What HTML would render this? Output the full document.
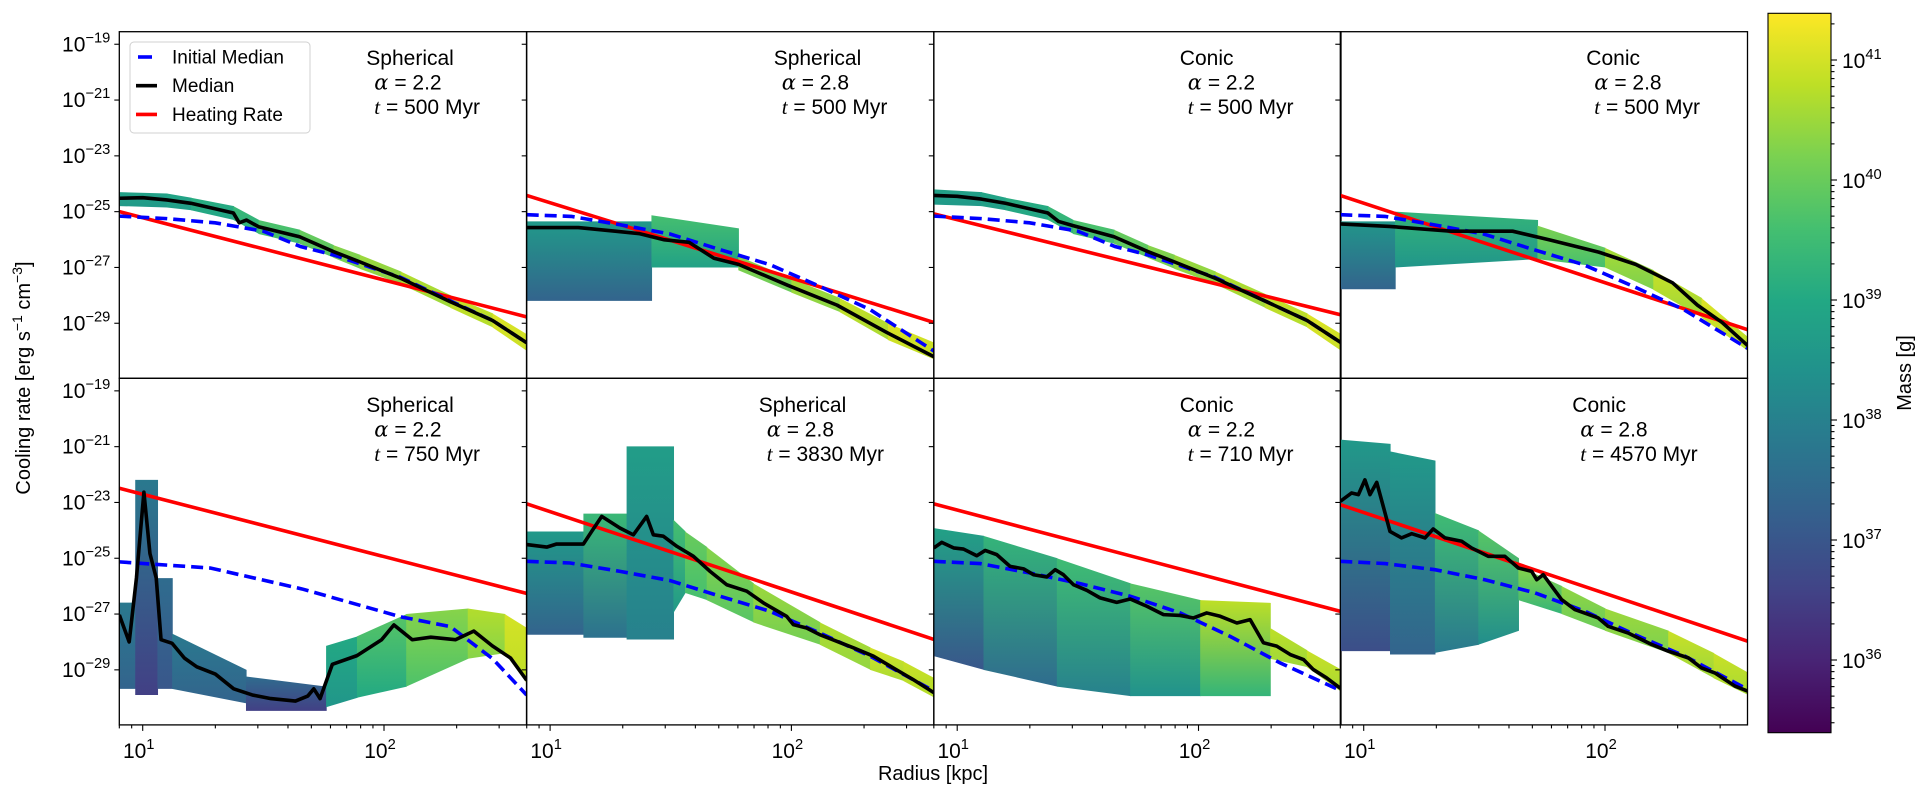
<!DOCTYPE html>
<html><head><meta charset="utf-8"><style>
html,body{margin:0;padding:0;background:#fff}
svg{display:block}
text{font-family:"Liberation Sans","DejaVu Sans",sans-serif;fill:#000}
</style></head><body>
<svg id="fig" width="1925" height="789" viewBox="0 0 1925 789" xmlns="http://www.w3.org/2000/svg">
<defs id="defs"></defs>
<g id="plots"></g>
</svg>
<script>
// ---------- data (log10 values) ----------
// panel 1: Spherical a=2.2 t=500
const p1HeatV = [-25.0, -28.77];
const p1InitR = [0.903,1.1,1.3,1.5,1.654,1.79,2.067,2.275,2.45,2.591];
const p1InitV = [-25.16,-25.25,-25.4,-25.7,-26.25,-26.55,-27.35,-28.2,-28.9,-29.7];
const p1MedR = [0.903,1.0,1.1,1.2,1.376,1.40,1.43,1.48,1.65,1.79,1.9,2.07,2.275,2.45,2.591];
const p1MedV = [-24.52,-24.5,-24.58,-24.7,-25.05,-25.4,-25.3,-25.54,-25.9,-26.43,-26.8,-27.39,-28.23,-28.9,-29.7];
const p1ColR = [0.903,1.1,1.2,1.376,1.48,1.65,1.79,1.9,2.07,2.275,2.45,2.591];
const p1ColHi = [-24.3,-24.35,-24.5,-24.8,-25.3,-25.65,-26.2,-26.55,-27.15,-28.0,-28.65,-29.4];
const p1ColLo = [-24.8,-24.85,-24.95,-25.3,-25.8,-26.15,-26.65,-27.05,-27.6,-28.45,-29.15,-30.0];
const p1ColMlo = [38.6,38.7,38.9,39.2,39.5,39.8,40.1,40.3,40.5,40.7,40.9,41.0];
const p1ColMhi = [38.8,38.9,39.1,39.4,39.7,40.0,40.3,40.5,40.7,40.9,41.1,41.2];
// panel 2: Spherical a=2.8 t=500
const p2HeatV = [-24.42, -28.97];
const p2InitR = [0.903,1.088,1.29,1.497,1.704,1.911,2.118,2.326,2.591];
const p2InitV = [-25.11,-25.17,-25.47,-25.8,-26.36,-26.9,-27.68,-28.51,-30.0];
const p2MedR = [0.903,1.117,1.27,1.372,1.474,1.576,1.679,1.781,1.985,2.189,2.393,2.591];
const p2MedV = [-25.57,-25.57,-25.7,-25.79,-26.01,-26.1,-26.67,-26.89,-27.64,-28.35,-29.32,-30.2];
const p2ColR = [0.903,1.42,1.42,1.78,1.78,2.0,2.2,2.4,2.591];
const p2ColHi = [-25.35,-25.35,-25.13,-25.6,-26.6,-27.4,-28.1,-29.0,-29.7];
const p2ColLo = [-28.2,-28.2,-27.0,-27.0,-27.1,-27.9,-28.6,-29.6,-30.3];
const p2ColMlo = [37.3,37.3,38.8,38.8,40.0,40.3,40.6,40.8,40.8];
const p2ColMhi = [38.6,38.6,39.6,39.6,40.3,40.6,40.9,41.1,41.1];
// panel 3: Conic a=2.2 t=500
const p3HeatV = [-25.08, -28.7];
const p3InitR = [0.903,1.1,1.3,1.5,1.654,1.79,2.067,2.275,2.45,2.591];
const p3InitV = [-25.16,-25.25,-25.4,-25.7,-26.25,-26.55,-27.35,-28.2,-28.9,-29.7];
const p3MedR = [0.903,1.0,1.1,1.2,1.376,1.42,1.48,1.65,1.79,1.9,2.07,2.275,2.45,2.591];
const p3MedV = [-24.42,-24.45,-24.55,-24.7,-25.05,-25.35,-25.5,-25.9,-26.43,-26.8,-27.39,-28.2,-28.9,-29.7];
const p3ColR = [0.903,1.1,1.2,1.376,1.48,1.65,1.79,1.9,2.07,2.275,2.45,2.591];
const p3ColHi = [-24.2,-24.3,-24.5,-24.8,-25.3,-25.65,-26.2,-26.55,-27.15,-27.95,-28.65,-29.4];
const p3ColLo = [-24.75,-24.8,-24.95,-25.3,-25.8,-26.15,-26.65,-27.05,-27.6,-28.45,-29.15,-30.0];
const p3ColMlo = [38.6,38.7,38.9,39.2,39.5,39.8,40.1,40.3,40.5,40.7,40.9,41.0];
const p3ColMhi = [38.8,38.9,39.1,39.4,39.7,40.0,40.3,40.5,40.7,40.9,41.1,41.2];
// panel 4: Conic a=2.8 t=500
const p4HeatV = [-24.42, -29.23];
const p4InitR = [0.903,1.088,1.29,1.497,1.704,1.911,2.118,2.326,2.591];
const p4InitV = [-25.11,-25.17,-25.47,-25.8,-26.36,-26.9,-27.68,-28.51,-29.9];
const p4MedR = [0.903,1.107,1.362,1.617,1.77,1.974,2.127,2.28,2.383,2.485,2.591];
const p4MedV = [-25.44,-25.53,-25.7,-25.7,-26.01,-26.45,-26.89,-27.55,-28.35,-28.97,-29.8];
const p4ColR = [0.903,1.13,1.13,1.72,1.72,2.0,2.2,2.4,2.591];
const p4ColHi = [-25.35,-25.35,-25.0,-25.3,-25.5,-26.3,-27.1,-28.1,-29.5];
const p4ColLo = [-27.78,-27.78,-27.0,-26.7,-26.7,-27.0,-27.8,-28.8,-30.0];
const p4ColMlo = [37.3,37.3,38.5,38.5,39.6,40.2,40.5,40.7,40.7];
const p4ColMhi = [38.5,38.5,39.3,39.3,40.2,40.6,40.9,41.1,41.1];
// panel 5: Spherical a=2.2 t=750
const p5HeatV = [-22.49, -26.26];
const p5InitR = [0.903,1.28,1.66,2.07,2.275,2.45,2.591];
const p5InitV = [-25.13,-25.35,-26.1,-27.1,-27.45,-28.6,-29.9];
const p5MedR = [0.903,0.944,0.974,1.005,1.03,1.056,1.076,1.122,1.173,1.224,1.301,1.377,1.454,1.531,1.633,1.684,1.709,1.735,1.786,1.888,1.99,2.041,2.117,2.194,2.296,2.372,2.449,2.525,2.591];
const p5MedV = [-27.03,-28.0,-25.71,-22.63,-24.83,-25.71,-27.92,-28.05,-28.58,-28.89,-29.15,-29.68,-29.9,-30.03,-30.12,-29.94,-29.68,-30.03,-28.8,-28.49,-27.92,-27.39,-27.92,-27.83,-27.92,-27.61,-28.14,-28.58,-29.37];
const p5ColR = [0.903,0.969,0.969,1.061,1.061,1.122,1.122,1.428,1.428,1.76,1.76,1.888,2.092,2.347,2.5,2.591];
const p5ColHi = [-26.59,-26.59,-22.19,-22.19,-25.71,-25.71,-27.7,-29.0,-29.24,-29.6,-28.14,-27.8,-27.0,-26.8,-27.0,-27.5];
const p5ColLo = [-29.68,-29.68,-29.9,-29.9,-29.68,-29.68,-29.68,-30.2,-30.47,-30.47,-30.34,-30.0,-29.6,-28.6,-28.4,-29.5];
const p5ColMlo = [37.3,37.3,36.5,36.5,37.0,37.0,37.3,37.0,36.5,36.5,38.5,39.0,39.7,40.3,40.8,40.8];
const p5ColMhi = [37.8,37.8,37.8,37.8,37.5,37.5,37.8,37.6,37.5,37.5,39.0,39.8,40.3,40.7,41.0,41.0];
// panel 6: Spherical a=2.8 t=3830
const p6HeatV = [-23.05, -27.91];
const p6InitR = [0.903,1.083,1.29,1.497,1.704,1.911,2.118,2.326,2.591];
const p6InitV = [-25.11,-25.17,-25.47,-25.8,-26.36,-26.9,-27.68,-28.51,-29.76];
const p6MedR = [0.903,0.986,1.027,1.138,1.172,1.214,1.29,1.345,1.4,1.428,1.469,1.525,1.594,1.663,1.732,1.815,1.884,1.98,2.008,2.063,2.118,2.257,2.34,2.422,2.505,2.591];
const p6MedV = [-24.51,-24.6,-24.49,-24.49,-24.04,-23.5,-23.92,-24.16,-23.5,-24.16,-24.21,-24.57,-24.93,-25.47,-25.95,-26.18,-26.6,-27.08,-27.38,-27.5,-27.74,-28.21,-28.51,-28.93,-29.35,-29.82];
const p6ColR = [0.903,1.138,1.138,1.317,1.317,1.511,1.511,1.559,1.649,1.842,2.118,2.326,2.464,2.591];
const p6ColHi = [-24.04,-24.04,-23.4,-23.4,-20.99,-20.99,-23.62,-24.04,-24.6,-25.9,-27.3,-28.2,-28.7,-29.3];
const p6ColLo = [-27.74,-27.74,-27.85,-27.85,-27.91,-27.91,-26.96,-26.24,-26.5,-27.3,-28.1,-29.0,-29.4,-30.0];
const p6ColMlo = [37.3,37.3,37.6,37.6,38.0,38.0,38.6,39.6,39.8,40.1,40.4,40.6,40.7,40.7];
const p6ColMhi = [38.6,38.6,39.4,39.4,38.7,38.7,39.6,40.0,40.3,40.5,40.7,41.0,40.9,40.9];
// panel 7: Conic a=2.2 t=710
const p7HeatV = [-23.05, -26.91];
const p7InitR = [0.903,1.095,1.302,1.509,1.717,1.924,2.131,2.338,2.591];
const p7InitV = [-25.11,-25.19,-25.53,-25.91,-26.36,-26.96,-27.8,-28.75,-29.75];
const p7MedR = [0.903,0.936,0.985,1.026,1.081,1.116,1.164,1.219,1.275,1.316,1.371,1.406,1.44,1.482,1.537,1.592,1.661,1.717,1.786,1.855,1.924,1.979,2.034,2.09,2.159,2.214,2.269,2.324,2.38,2.435,2.476,2.531,2.591];
const p7MedV = [-24.63,-24.43,-24.63,-24.67,-24.91,-24.72,-24.87,-25.29,-25.38,-25.59,-25.67,-25.41,-25.59,-25.95,-26.15,-26.42,-26.58,-26.46,-26.72,-27.02,-27.05,-27.14,-26.96,-27.08,-27.32,-27.2,-28.03,-28.15,-28.45,-28.63,-28.99,-29.29,-29.68];
const p7ColR = [0.903,1.109,1.413,1.717,2.007,2.297,2.297,2.449,2.591];
const p7ColHi = [-23.92,-24.2,-25.0,-25.9,-26.5,-26.6,-27.5,-28.3,-29.0];
const p7ColLo = [-28.51,-29.0,-29.6,-29.94,-29.94,-29.94,-28.6,-28.9,-29.8];
const p7ColMlo = [37.0,37.5,38.0,38.4,39.3,40.5,40.5,40.6,40.6];
const p7ColMhi = [38.8,39.3,39.5,39.8,40.8,40.8,40.8,40.9,40.9];
// panel 8: Conic a=2.8 t=4570
const p8HeatV = [-23.08, -27.97];
const p8InitR = [0.903,1.088,1.295,1.502,1.71,1.917,2.124,2.331,2.591];
const p8InitV = [-25.11,-25.19,-25.41,-25.77,-26.24,-26.9,-27.74,-28.51,-29.7];
const p8MedR = [0.903,0.95,0.978,1.005,1.026,1.054,1.081,1.109,1.157,1.199,1.254,1.288,1.337,1.406,1.447,1.516,1.585,1.641,1.696,1.717,1.744,1.779,1.82,1.875,1.972,2.013,2.096,2.193,2.262,2.345,2.4,2.455,2.538,2.591];
const p8MedV = [-22.96,-22.66,-22.72,-22.19,-22.72,-22.28,-23.14,-24.04,-24.27,-24.12,-24.27,-23.95,-24.27,-24.39,-24.63,-24.93,-24.93,-25.35,-25.47,-25.77,-25.59,-26.0,-26.48,-26.84,-27.14,-27.44,-27.68,-28.09,-28.33,-28.57,-28.93,-29.11,-29.58,-29.76];
const p8ColR = [0.903,1.109,1.109,1.295,1.295,1.475,1.641,1.641,1.82,2.0,2.262,2.45,2.591];
const p8ColHi = [-20.75,-20.9,-21.17,-21.5,-23.38,-24.0,-25.0,-25.29,-26.0,-26.8,-27.6,-28.4,-29.1];
const p8ColLo = [-28.33,-28.33,-28.45,-28.45,-28.39,-28.1,-27.6,-26.5,-27.0,-27.6,-28.4,-29.3,-29.9];
const p8ColMlo = [36.8,36.8,37.3,37.3,37.8,38.3,38.3,39.3,40.0,40.2,40.5,40.6,40.6];
const p8ColMhi = [38.6,38.6,38.6,38.6,39.5,39.8,39.8,40.3,40.4,40.5,40.9,40.9,40.9];

const panelTitles = ["Spherical","Spherical","Conic","Conic","Spherical","Spherical","Conic","Conic"];
const panelAlpha = ["2.2","2.8","2.2","2.8","2.2","2.8","2.2","2.8"];
const panelTime = ["500","500","500","500","750","3830","710","4570"];
const yTickExp = [-19,-21,-23,-25,-27,-29];
const xTickExp = [1,2];
const cbTickExp = [36,37,38,39,40,41];

// ---------- layout ----------
const NS = "http://www.w3.org/2000/svg";
const PX = [119.3, 526.7, 933.8, 1340.3];
const PY = [31.7, 378.3];
const PW = 407.2, PH = 346.6;
const XMIN = 0.903, XPD = 241.3, YMAX = -18.55, YPD = 27.9;
const textX = [247,247,246,246,247,232,246,232];
const data = [
 [p1HeatV,p1InitR,p1InitV,p1MedR,p1MedV,p1ColR,p1ColHi,p1ColLo,p1ColMlo,p1ColMhi],
 [p2HeatV,p2InitR,p2InitV,p2MedR,p2MedV,p2ColR,p2ColHi,p2ColLo,p2ColMlo,p2ColMhi],
 [p3HeatV,p3InitR,p3InitV,p3MedR,p3MedV,p3ColR,p3ColHi,p3ColLo,p3ColMlo,p3ColMhi],
 [p4HeatV,p4InitR,p4InitV,p4MedR,p4MedV,p4ColR,p4ColHi,p4ColLo,p4ColMlo,p4ColMhi],
 [p5HeatV,p5InitR,p5InitV,p5MedR,p5MedV,p5ColR,p5ColHi,p5ColLo,p5ColMlo,p5ColMhi],
 [p6HeatV,p6InitR,p6InitV,p6MedR,p6MedV,p6ColR,p6ColHi,p6ColLo,p6ColMlo,p6ColMhi],
 [p7HeatV,p7InitR,p7InitV,p7MedR,p7MedV,p7ColR,p7ColHi,p7ColLo,p7ColMlo,p7ColMhi],
 [p8HeatV,p8InitR,p8InitV,p8MedR,p8MedV,p8ColR,p8ColHi,p8ColLo,p8ColMlo,p8ColMhi]
];
const VIR = ["#440154","#482475","#414487","#355f8d","#2a788e","#21918c","#22a884","#44bf70","#7ad151","#bddf26","#fde725"];
const MMIN = 35.37, MMAX = 41.39;
function hex(c){return [parseInt(c.substr(1,2),16),parseInt(c.substr(3,2),16),parseInt(c.substr(5,2),16)];}
function viridis(m){
  let t = Math.max(0, Math.min(1, (m-MMIN)/(MMAX-MMIN)));
  let f = t*10, i = Math.min(9, Math.floor(f)), u = f-i;
  const a = hex(VIR[i]), b = hex(VIR[i+1]);
  return "rgb(" + a.map((v,k)=>Math.round(v+(b[k]-v)*u)).join(",") + ")";
}
function el(tag, attrs, parent){
  const e = document.createElementNS(NS, tag);
  for (const k in attrs) e.setAttribute(k, attrs[k]);
  if (parent) parent.appendChild(e);
  return e;
}
const svg = document.getElementById("fig");
const defs = document.getElementById("defs");
const plots = document.getElementById("plots");
let gid = 0;

function supLabel(parent, x, y, base, exp, anchor, size){
  const t = el("text", {x:x, y:y, "text-anchor":anchor, "font-size":size}, parent);
  const s1 = el("tspan", {}, t); s1.textContent = base;
  const s2 = el("tspan", {dy:-size*0.42, "font-size":size*0.7}, t); s2.textContent = exp;
  return t;
}

for (let p = 0; p < 8; p++){
  const col = p % 4, row = Math.floor(p/4);
  const x0 = PX[col], y0 = PY[row];
  const xS = lr => x0 + (lr - XMIN) * XPD;
  const yS = lv => y0 + (YMAX - lv) * YPD;
  const [heatV, initR, initV, medR, medV, colR, colHi, colLo, colMlo, colMhi] = data[p];

  const g = el("g", {}, plots);
  
  
  const cp = el("clipPath", {id:"clip"+p}, defs);
  el("rect", {x:x0, y:y0, width:PW, height:PH}, cp);
  const inner = el("g", {"clip-path":"url(#clip"+p+")"}, g);

  // heatmap segments (trapezoids between consecutive radius points)
  const hm = el("g", {}, inner);
  
  
  for (let i = 0; i < colR.length - 1; i++){
    const xa = xS(colR[i]), xb = xS(colR[i+1]);
    if (xb - xa < 0.01) continue;
    const id = "gr" + (gid++);
    const lg = el("linearGradient", {id:id, x1:0, y1:1, x2:0, y2:0}, defs);
    el("stop", {offset:0, "stop-color":viridis(colMlo[i])}, lg);
    el("stop", {offset:1, "stop-color":viridis(colMhi[i])}, lg);
    const pts = [xa+","+yS(colHi[i]), (xb+0.6)+","+yS(colHi[i+1]), (xb+0.6)+","+yS(colLo[i+1]), xa+","+yS(colLo[i])].join(" ");
    const poly = el("polygon", {points:pts, fill:"url(#"+id+")"}, hm);
    
    
  }
  // heating line
  const hl = el("line", {x1:xS(XMIN), y1:yS(heatV[0]), x2:xS(XMIN+PW/XPD), y2:yS(heatV[1]), stroke:"#ff0000", "stroke-width":3.6}, inner);
  
  
  // initial median
  const ip = el("polyline", {points: initR.map((r,i)=>xS(r)+","+yS(initV[i])).join(" "), fill:"none", stroke:"#0000ff", "stroke-width":3.6, "stroke-dasharray":"12,6"}, inner);
  
  
  // median
  const mp = el("polyline", {points: medR.map((r,i)=>xS(r)+","+yS(medV[i])).join(" "), fill:"none", stroke:"#000", "stroke-width":3.6, "stroke-linejoin":"round"}, inner);
  
  

  // frame
  const fr = el("rect", {x:x0, y:y0, width:PW, height:PH, fill:"none", stroke:"#000", "stroke-width":1.3}, g);
  
  

  // y ticks
  yTickExp.forEach(e => {
    const y = yS(e);
    el("line", {x1:x0-5, y1:y, x2:x0, y2:y, stroke:"#000", "stroke-width":1.1}, g);
    if (col === 0){
      const t = supLabel(g, x0-9, y+7, "10", "\u2212" + Math.abs(e), "end", 21);
      
      
    }
  });
  // x ticks
  if (row === 1){
    for (let d = 0; d <= 2; d++){
      for (let k = 1; k <= 9; k++){
        const lr = d + Math.log10(k);
        if (lr < XMIN - 1e-6 || lr > XMIN + PW/XPD) continue;
        const x = xS(lr), maj = (k === 1);
        el("line", {x1:x, y1:y0+PH, x2:x, y2:y0+PH+(maj?6:3.5), stroke:"#000", "stroke-width":1.1}, g);
      }
    }
    xTickExp.forEach(e => {
      const t = supLabel(g, xS(e)-4, y0+PH+33, "10", String(e), "middle", 21);
      
      
    });
  }
  // annotation
  const ax = x0 + textX[p], ay = y0 + 33.5;
  const a1 = el("text", {x:ax, y:ay, "font-size":21}, g); a1.textContent = panelTitles[p];
  
  
  const a2 = el("text", {x:ax+8, y:ay+24.5, "font-size":21}, g);
  
  
  const s1 = el("tspan", {"font-style":"italic", "font-family":"DejaVu Serif, Liberation Serif, serif"}, a2); s1.textContent = "\u03b1";
  const s2 = el("tspan", {}, a2); s2.textContent = " = " + panelAlpha[p];
  const a3 = el("text", {x:ax+8, y:ay+49, "font-size":21}, g);
  
  
  const s3 = el("tspan", {"font-style":"italic", "font-family":"Liberation Serif, serif"}, a3); s3.textContent = "t";
  const s4 = el("tspan", {}, a3); s4.textContent = " = " + panelTime[p] + " Myr";
}

// legend
const lgG = el("g", {}, svg);


el("rect", {x:130, y:42, width:180, height:91, rx:4, fill:"#fff", "fill-opacity":0.85, stroke:"#d0d0d0", "stroke-width":1}, lgG);
const legItems = [["Initial Median","#0000ff"],["Median","#000"],["Heating Rate","#ff0000"]];
legItems.forEach((it, i) => {
  const y = 57 + i*28.7;
  const ln = el("line", {x1:136, y1:y, x2:157, y2:y, stroke:it[1], "stroke-width":3.6}, lgG);
  if (i === 0){ ln.setAttribute("x1", 138); ln.setAttribute("x2", 152); }
  const t = el("text", {x:172, y:y+6.5, "font-size":19}, lgG);
  t.textContent = it[0];
  
  
});

// colorbar
const cbG = el("g", {}, svg);


const cg = el("linearGradient", {id:"cbgrad", x1:0, y1:1, x2:0, y2:0}, defs);
VIR.forEach((c,i) => el("stop", {offset:i/10, "stop-color":c}, cg));
const CBX = 1768, CBT = 13.3, CBB = 732.7, CBW = 63;
const cbY = m => 60 + (41 - m) * 120;
el("rect", {x:CBX, y:CBT, width:CBW, height:CBB-CBT, fill:"url(#cbgrad)", stroke:"#000", "stroke-width":1.1}, cbG);
for (let d = 35; d <= 41; d++){
  for (let k = 1; k <= 9; k++){
    const m = d + Math.log10(k);
    if (m < MMIN || m > MMAX) continue;
    const y = cbY(m);
    el("line", {x1:CBX+CBW, y1:y, x2:CBX+CBW+(k===1?6:3.5), y2:y, stroke:"#000", "stroke-width":1.1}, cbG);
  }
}
cbTickExp.forEach(e => {
  const t = supLabel(cbG, CBX+CBW+11, cbY(e)+8, "10", String(e), "start", 21);
  
  
});
const cbl = el("text", {x:0, y:0, "font-size":20, "text-anchor":"middle", transform:"translate(1911,373) rotate(-90)"}, cbG);
cbl.textContent = "Mass [g]";



// axis titles
const yt = el("text", {x:0, y:0, "font-size":20, "text-anchor":"middle", transform:"translate(30,378) rotate(-90)"}, svg);


const y1 = el("tspan", {}, yt); y1.textContent = "Cooling rate [erg s";
const y2 = el("tspan", {dy:-8, "font-size":14}, yt); y2.textContent = "\u22121";
const y3 = el("tspan", {dy:8}, yt); y3.textContent = " cm";
const y4 = el("tspan", {dy:-8, "font-size":14}, yt); y4.textContent = "\u22123";
const y5 = el("tspan", {dy:8}, yt); y5.textContent = "]";
const xt = el("text", {x:933, y:780, "font-size":20, "text-anchor":"middle"}, svg);
xt.textContent = "Radius [kpc]";


</script>
</body></html>
